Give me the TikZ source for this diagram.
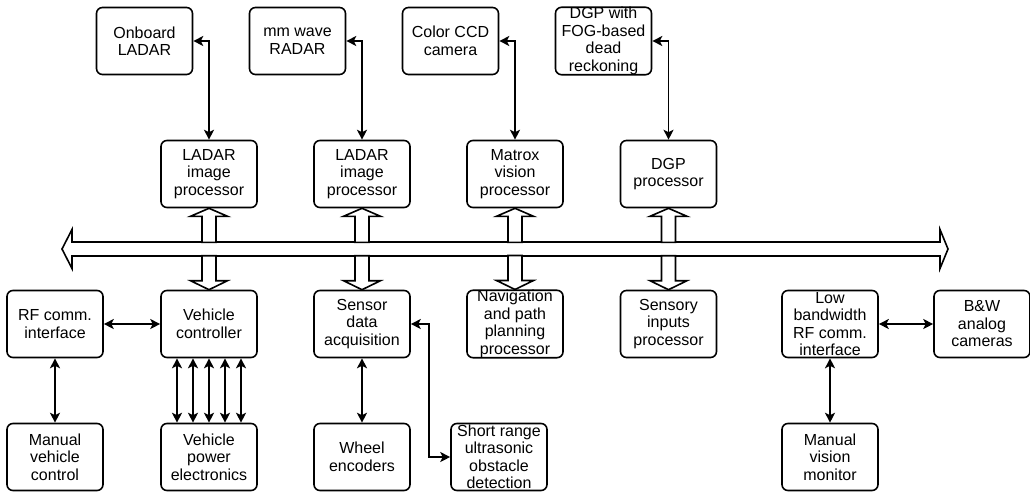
\documentclass[tikz,border=0pt]{standalone}
\usepackage{fontspec}
\setmainfont{Liberation Sans}
\usetikzlibrary{arrows.meta,calc}

\begin{document}
\begin{tikzpicture}[x=1pt,y=-1pt,line width=1.6pt,>={Stealth[length=10pt,width=10pt,inset=2.5pt]}]
      \tikzstyle{block}=[draw, rounded corners=6pt, minimum width=96pt, minimum height=67pt, inner sep=0pt, align=center, font=\fontsize{16}{17.5}\selectfont]
      \tikzstyle{link}=[<->]
      \tikzstyle{fat}=[draw, fill=white, line join=miter]

      \useasboundingbox (0,0) rectangle (1030,493);

      % Draw the sensor row
      \node[block] (olad) at (144.5,41) {Onboard\\LADAR};
      \node[block] (mmr) at (297.5,41) {mm wave\\RADAR};
      \node[block] (ccd) at (450.5,41) {Color CCD\\camera};
      \node[block] (dgpf) at (603.5,41) {DGP with\\FOG-based\\dead\\reckoning};

      % Draw the processor row
      \node[block] (lip) at (209,174) {LADAR\\image\\processor};
      \node[block] (rip) at (362,174) {LADAR\\image\\processor};
      \node[block] (mvp) at (515,174) {Matrox\\vision\\processor};
      \node[block] (dgpp) at (668.5,174) {DGP\\processor};

      % Draw the row under the bus
      \node[block] (rfc) at (55,324) {RF comm.\\interface};
      \node[block] (vc) at (209,324) {Vehicle\\controller};
      \node[block] (sda) at (362,324) {Sensor\\data\\acquisition};
      \node[block] (npp) at (515,324) {Navigation\\and path\\planning\\processor};
      \node[block] (sip) at (668.5,324) {Sensory\\inputs\\processor};
      \node[block] (lbrf) at (830,324) {Low\\bandwidth\\RF comm.\\interface};
      \node[block] (bwc) at (982,324) {B\&W\\analog\\cameras};

      % Draw the bottom row
      \node[block] (mvc) at (55,457) {Manual\\vehicle\\control};
      \node[block] (vpe) at (209,457) {Vehicle\\power\\electronics};
      \node[block] (we) at (362,457) {Wheel\\encoders};
      \node[block] (sr) at (499,457) {Short range\\ultrasonic\\obstacle\\detection};
      \node[block] (mvm) at (830,457) {Manual\\vision\\monitor};

      % The bus
      \coordinate (busL) at (62,249);
      \coordinate (busR) at (948,249);
      \draw[fat] (busL) -- ++(10,-19.5) -- ++(0,12.5) -- ($(busR)+(-8,-7)$) -- ++(0,-12.5)
          -- (busR) -- ++(-8,19.5) -- ++(0,-12.5) -- ($(busL)+(10,7)$) -- ++(0,12.5) -- cycle;

      % Connect the processors with the bus, and the bus with the lower row
      \foreach \upper/\lower in {lip/vc, rip/sda, mvp/npp, dgpp/sip}
      {
          \draw[fat] (\upper.south) -- ++(18.5,8) -- ++(-11.5,0) -- ++(0,26) -- ++(-14,0)
              -- ++(0,-26) -- ++(-11.5,0) -- cycle;
          \draw[fat] (\lower.north) -- ++(18.5,-9) -- ++(-11.5,0) -- ++(0,-25) -- ++(-14,0)
              -- ++(0,25) -- ++(-11.5,0) -- cycle;
      }

      % Sensors to their processors
      \foreach \sensor/\proc in {olad/lip, mmr/rip, ccd/mvp, dgpf/dgpp}
          \draw[link] (\sensor.east) -| (\proc.north);

      % Vehicle side
      \draw[link] (rfc) -- (vc);
      \draw[link] (rfc) -- (mvc);
      \foreach \dx in {-32,-16,0,16,32}
          \draw[link] ($(vc.south)+(\dx,0)$) -- ($(vpe.north)+(\dx,0)$);

      % Sensor data acquisition
      \draw[link] (sda) -- (we);
      \draw[link] (sda.east) -- ++(18,0) coordinate (sdaturn) |- (sr.west);

      % Remote side
      \draw[link] (lbrf) -- (bwc);
      \draw[link] (lbrf) -- (mvm);
\end{tikzpicture}
\end{document}
